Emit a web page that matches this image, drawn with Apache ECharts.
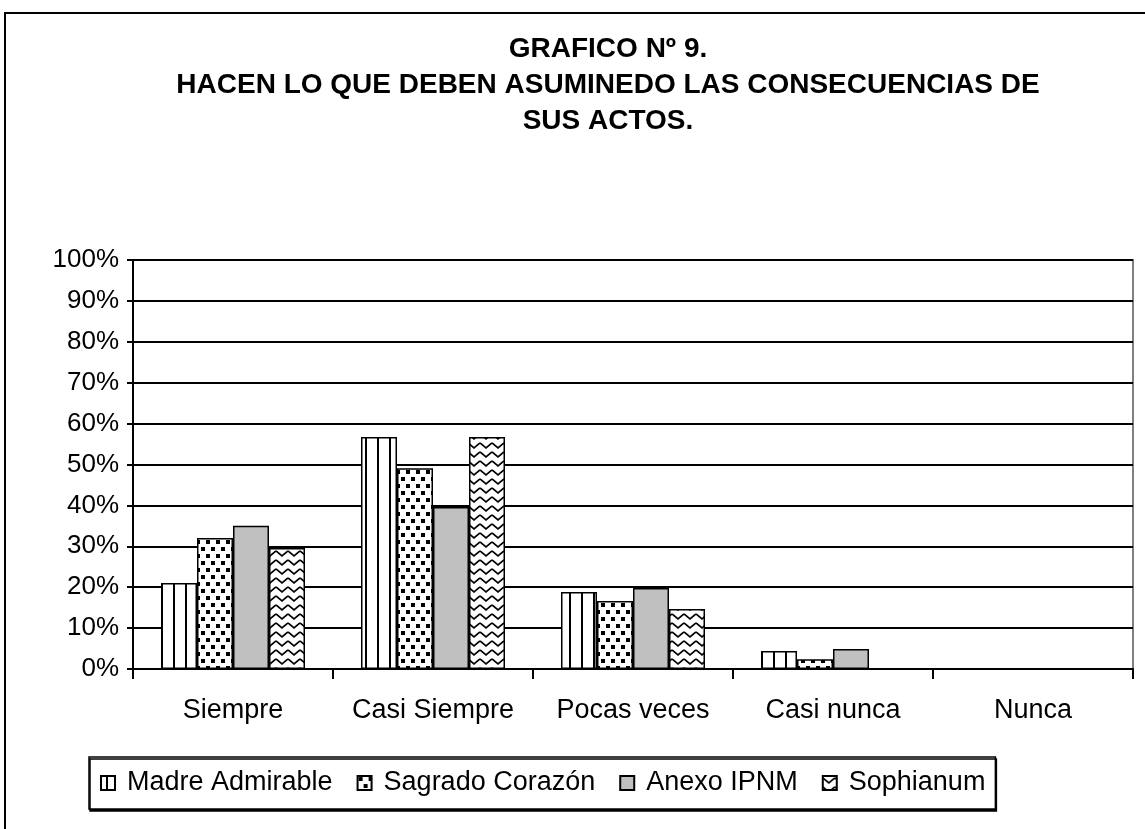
<!DOCTYPE html>
<html>
<head>
<meta charset="utf-8">
<script src="https://cdn.jsdelivr.net/npm/echarts@6/dist/echarts.min.js"></script>
<style>
  html, body { margin: 0; padding: 0; background: #fff; }
  #chart { width: 1145px; height: 829px; }
</style>
</head>
<body>
<div id="chart"></div>
<script>
// datos (porcentajes)
const categories = ['Siempre', 'Casi Siempre', 'Pocas veces', 'Casi nunca', 'Nunca'];
const seriesNames = ['Madre Admirable', 'Sagrado Corazón', 'Anexo IPNM', 'Sophianum'];
const madreAdmirable = [21, 56.7, 18.8, 4.4, 0];
const sagradoCorazon = [32, 49.1, 16.6, 2.4, 0];
const anexoIpnm = [35, 39.6, 19.8, 4.9, 0];
const sophianum = [29.6, 56.7, 14.7, 0, 0];

const FONT = '"Liberation Sans", Arial, sans-serif';

function makePattern(w, h, draw) {
  const c = document.createElement('canvas');
  c.width = w;
  c.height = h;
  const ctx = c.getContext('2d');
  ctx.fillStyle = '#fff';
  ctx.fillRect(0, 0, w, h);
  ctx.fillStyle = '#000';
  ctx.strokeStyle = '#000';
  draw(ctx);
  return { image: c, repeat: 'repeat' };
}

// rayas verticales
const stripes = makePattern(12, 4, (ctx) => {
  ctx.fillRect(5, 0, 2, 4);
});
// cuadritos
const dots = makePattern(10, 14, (ctx) => {
  ctx.fillRect(1, 1, 4, 4);
  ctx.fillRect(6, 8, 4, 4);
});
// zigzag
const zigzag = makePattern(12, 9, (ctx) => {
  ctx.lineWidth = 1.7;
  ctx.beginPath();
  ctx.moveTo(0, 2);
  ctx.lineTo(6, 7);
  ctx.lineTo(12, 2);
  ctx.stroke();
});

const fills = [stripes, dots, '#c0c0c0', zigzag];
const values = [madreAdmirable, sagradoCorazon, anexoIpnm, sophianum];

const chart = echarts.init(document.getElementById('chart'));

const seriesData = seriesNames.map((name, i) => ({
  name: name,
  type: 'bar',
  data: values[i],
  barWidth: 36,
  barGap: '0%',
  itemStyle: {
    color: fills[i],
    borderColor: '#000',
    borderWidth: 1.5,
  },
  emphasis: { disabled: true },
}));

chart.setOption({
  animation: false,
  backgroundColor: '#fff',
  title: {
    text: 'GRAFICO Nº 9.\nHACEN LO QUE DEBEN ASUMINEDO LAS CONSECUENCIAS DE\nSUS ACTOS.',
    left: 603,
    top: 26,
    textAlign: 'center',
    textStyle: {
      fontFamily: FONT,
      fontSize: 28,
      fontWeight: 'bold',
      color: '#000',
      lineHeight: 36,
    },
  },
  graphic: [{
    type: 'rect',
    shape: { x: 5, y: 13, width: 1300, height: 1000 },
    style: { fill: 'none', stroke: '#000', lineWidth: 2 },
    silent: true,
    z: -1,
  }],
  legend: {
    data: seriesNames,
    icon: 'rect',
    left: 89,
    top: 757,
    padding: [10, 10, 10, 11],
    itemGap: 24,
    itemWidth: 14,
    itemHeight: 14,
    borderColor: '#000',
    borderWidth: 1.5,
    backgroundColor: '#fff',
    shadowColor: '#000',
    shadowOffsetX: 1,
    shadowOffsetY: 2,
    textStyle: {
      fontFamily: FONT,
      fontSize: 27,
      lineHeight: 30,
      color: '#000',
      padding: [2, 0, 0, 7],
    },
  },
  grid: {
    left: 133,
    right: 12,
    top: 260,
    bottom: 160,
    show: true,
    borderColor: '#808080',
    borderWidth: 2,
  },
  xAxis: {
    type: 'category',
    data: categories,
    axisLine: { lineStyle: { color: '#000', width: 2 } },
    axisTick: { show: true, length: 10, lineStyle: { color: '#000', width: 2 } },
    axisLabel: {
      interval: 0,
      fontFamily: FONT,
      fontSize: 27,
      color: '#000',
      margin: 28,
    },
  },
  yAxis: {
    type: 'value',
    min: 0,
    max: 100,
    interval: 10,
    axisLine: { show: true, lineStyle: { color: '#000', width: 2 } },
    axisTick: { show: true, length: 6, lineStyle: { color: '#000', width: 2 } },
    axisLabel: {
      fontFamily: FONT,
      fontSize: 26,
      color: '#000',
      margin: 14,
      formatter: '{value}%',
    },
    splitLine: { lineStyle: { color: '#000', width: 2 } },
  },
  series: seriesData,
});
</script>
</body>
</html>
